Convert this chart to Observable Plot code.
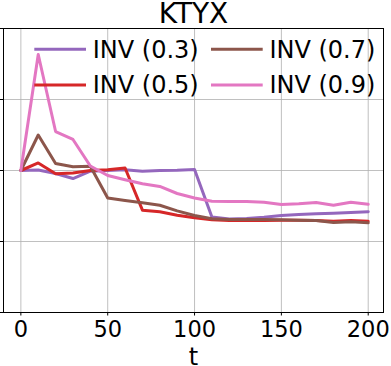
<!DOCTYPE html>
<html>
<head>
<meta charset="utf-8">
<script src="https://cdn.jsdelivr.net/npm/d3@7"></script>
<script src="https://cdn.jsdelivr.net/npm/@observablehq/plot@0.6"></script>
<style>
  html, body { margin: 0; padding: 0; background: #fff; }
  #chart svg { display: block; }
</style>
</head>
<body>
<div id="chart"></div>
<script>
const title = "KTYX";
const xLabel = "t";
const xTicks = [0, 50, 100, 150, 200];
const yTicks = [-2, -1, 0, 1, 2];
const yGrid = [-1, 0, 1];
const t = [0, 10, 20, 30, 40, 50, 60, 70, 80, 90, 100, 110, 120, 130, 140, 150, 160, 170, 180, 190, 200];
const seriesNames = ["INV (0.3)", "INV (0.5)", "INV (0.7)", "INV (0.9)"];
const seriesColors = ["#9467bd", "#d62728", "#8c564b", "#e377c2"];
const inv03 = [0, 0.007, -0.042, -0.113, -0.010, 0, 0.010, -0.010, 0, 0.004, 0.014, -0.655, -0.683, -0.676, -0.658, -0.634, -0.620, -0.610, -0.601, -0.592, -0.580];
const inv05 = [0, 0.106, -0.046, -0.035, 0, 0.010, 0.035, -0.559, -0.580, -0.630, -0.666, -0.694, -0.704, -0.704, -0.704, -0.700, -0.700, -0.704, -0.714, -0.704, -0.714];
const inv07 = [0, 0.500, 0.099, 0.052, 0.061, -0.387, -0.423, -0.454, -0.489, -0.568, -0.634, -0.680, -0.690, -0.690, -0.690, -0.694, -0.700, -0.704, -0.732, -0.723, -0.737];
const inv09 = [0, 1.634, 0.549, 0.437, 0.063, -0.070, -0.131, -0.187, -0.225, -0.324, -0.387, -0.434, -0.437, -0.437, -0.446, -0.479, -0.469, -0.451, -0.489, -0.446, -0.475];

const seriesValues = [inv03, inv05, inv07, inv09];
const rows = [];
seriesNames.forEach((name, i) => {
  t.forEach((tv, j) => rows.push({series: name, t: tv, v: seriesValues[i][j]}));
});

const font = "DejaVu Sans, sans-serif";
const chart = Plot.plot({
  width: 391,
  height: 366,
  marginTop: 28,
  marginLeft: 3,
  marginRight: 8,
  marginBottom: 54,
  style: {fontFamily: font, background: "#fff", color: "#000"},
  x: {domain: [-10, 208.8]},
  y: {domain: [-2, 2]},
  color: {domain: seriesNames, range: seriesColors},
  marks: [
    Plot.gridX(xTicks, {stroke: "#b0b0b0", strokeOpacity: 0.8, strokeWidth: 1}),
    Plot.gridY(yGrid, {stroke: "#b0b0b0", strokeOpacity: 0.8, strokeWidth: 1}),
    ...seriesNames.map(name => Plot.line(rows.filter(d => d.series === name), {
      x: "t", y: "v", stroke: "series", strokeWidth: 3, strokeLinejoin: "round"
    })),
    Plot.frame({stroke: "#000", strokeWidth: 1}),
    Plot.axisX(xTicks, {tickSize: 3.5, tickPadding: 5.5, fontSize: 22.5, label: null, stroke: "#000"}),
    Plot.axisY(yTicks, {tickSize: 3.5, tickFormat: () => "", label: null, stroke: "#000"}),
    Plot.text([xLabel], {frameAnchor: "bottom", lineAnchor: "bottom", dy: 52, fontSize: 24, fill: "#000"}),
    Plot.text([title], {frameAnchor: "top", lineAnchor: "bottom", dy: -5.3, fontSize: 28, fill: "#000"})
  ]
});
document.getElementById("chart").appendChild(chart);

// legend (no frame), two columns, inside the axes
const svg = d3.select(chart);
const leg = svg.append("g")
  .attr("font-family", font)
  .attr("font-size", 24)
  .attr("text-anchor", "start");
const cols = [34.3, 211];
const rowsY = [49.3, 85];
const order = [[0, 0, 0], [1, 0, 1], [2, 1, 0], [3, 1, 1]];
order.forEach(([i, c, r]) => {
  const x0 = cols[c], y0 = rowsY[r];
  leg.append("line")
    .attr("x1", x0).attr("x2", x0 + 51.7)
    .attr("y1", y0).attr("y2", y0)
    .attr("stroke", seriesColors[i]).attr("stroke-width", 3);
  leg.append("text")
    .attr("x", x0 + 58.4).attr("y", y0 + 8.3)
    .attr("fill", "#000")
    .attr("text-anchor", "start")
    .text(seriesNames[i]);
});
</script>
</body>
</html>
